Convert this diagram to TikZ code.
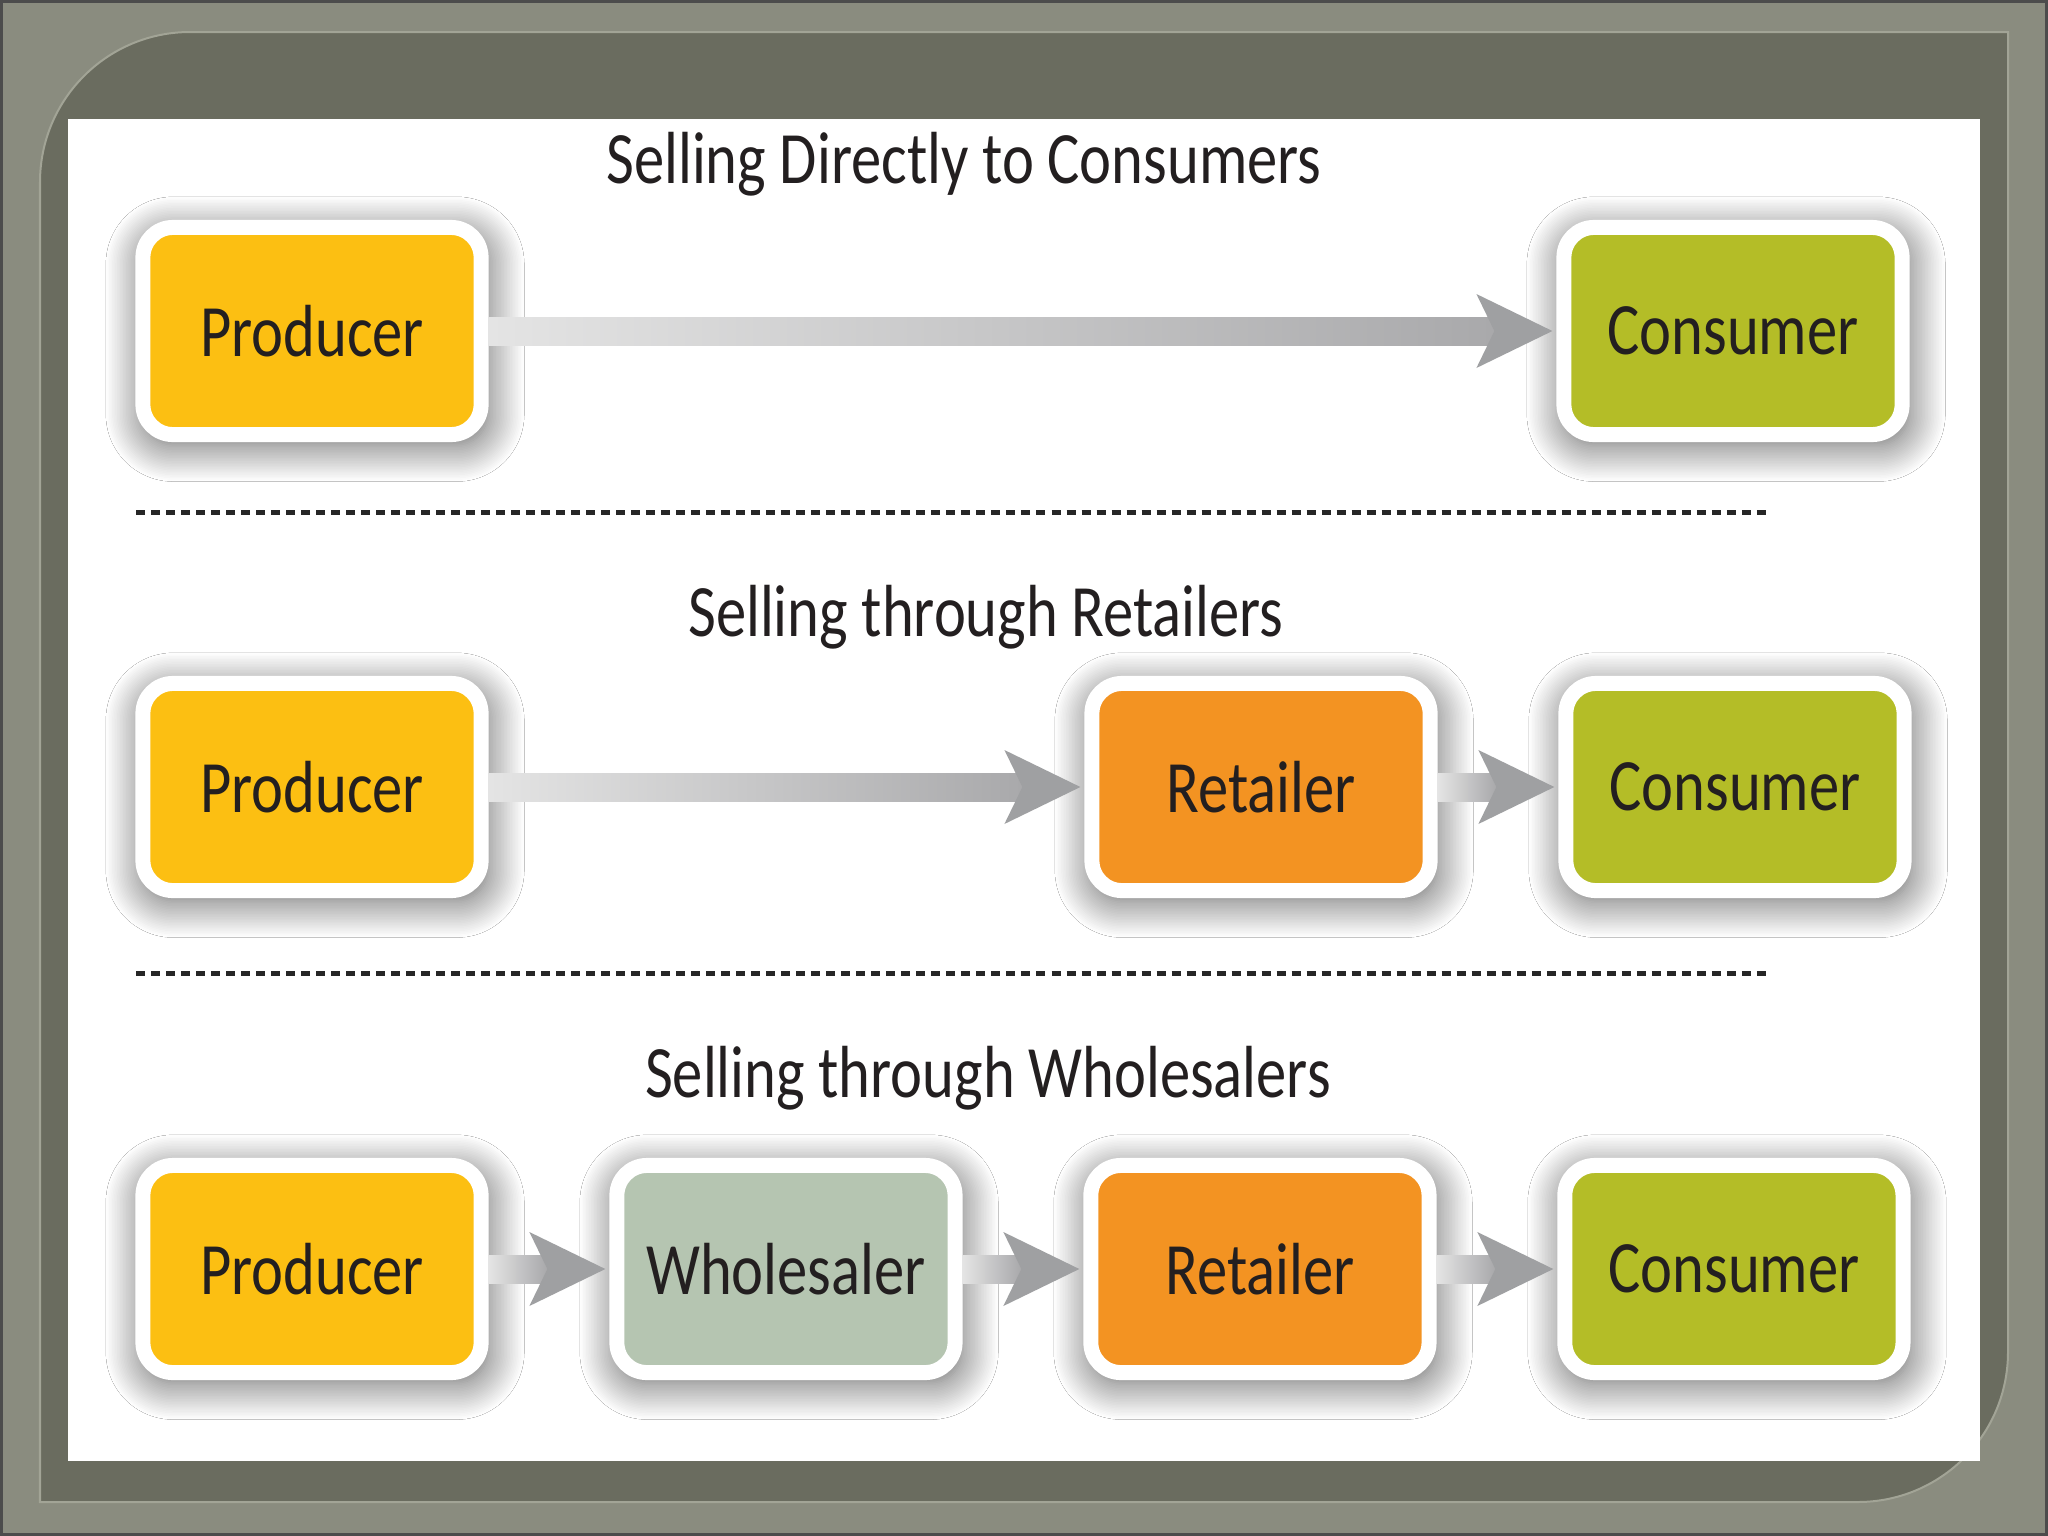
\documentclass[tikz,border=0pt]{standalone}
\usepackage{fontspec}
\setmainfont[FakeStretch=0.82]{Carlito}
\usetikzlibrary{positioning,calc,shadows.blur}

\definecolor{framebg}{HTML}{8A8C7F}
\definecolor{framedark}{HTML}{6A6C5F}
\definecolor{frameline}{HTML}{A2A496}
\definecolor{producer}{HTML}{FCBF12}
\definecolor{wholesaler}{HTML}{B5C5B1}
\definecolor{retailer}{HTML}{F39322}
\definecolor{consumer}{HTML}{B4BD27}
\definecolor{inktext}{HTML}{231F20}
\definecolor{arrowlight}{HTML}{E4E4E4}
\definecolor{arrowdark}{HTML}{A9A9AB}
\definecolor{arrowtip}{HTML}{9FA0A2}

% shaft + notched head from one box to the next
\newcommand{\chanarrow}[2]{%
  \shade[left color=arrowlight, right color=arrowdark]
    ($(#1.east)+(0,-14)$) rectangle ($(#2.west)+(-62,14)$);
  \fill[arrowtip] ($(#2.west)+(-4,0)$) -- ++(-76,-37) -- ++(18,37) -- ++(-18,37) -- cycle;
}

\begin{document}
\begin{tikzpicture}[
    x=0.01cm, y=-0.01cm,
    chanbox/.style={rectangle, rounded corners=0.3cm, fill=#1, draw=white,
      line width=0.15cm, minimum width=3.38cm, minimum height=2.07cm,
      text=inktext, font=\fontsize{21}{24}\selectfont,
      blur shadow={shadow xshift=0.03cm, shadow yshift=-0.08cm,
        shadow blur radius=0.36cm, shadow blur steps=24,
        shadow opacity=65, shadow scale=1.02}},
    title/.style={anchor=base, text=inktext, font=\fontsize{21}{24}\selectfont},
    divider/.style={line width=0.05cm, draw=black!85, dash pattern=on 0.09cm off 0.06cm},
    node distance=4.737cm
    ]
    \useasboundingbox (0,0) rectangle (2048,1536);

    %% slide frame
    \fill[framebg] (0,0) rectangle (2048,1536);
    \filldraw[fill=framedark, draw=frameline, line width=0.02cm]
      (40,1502) [rounded corners=1.5cm] -- (40,32) [sharp corners] -- (2008,32)
      [rounded corners=1.5cm] -- (2008,1502) [sharp corners] -- cycle;
    \fill[white] (68,119) rectangle (1980,1461);
    \draw[black!70, line width=0.03cm] (1.5,1.5) rectangle (2046.5,1534.5);

    %% Selling directly
    \node[title](t1) at (964,183) {Selling Directly to Consumers};
    \node[chanbox=producer](p1) at (312,331) {Producer};
    \node[chanbox=consumer](c1) at (1733,331) {Consumer};
    \chanarrow{p1}{c1}

    \draw[divider] (136,512) -- (1767,512);

    %% Selling through retailers
    \node[title](t2) at (986,636) {Selling through Retailers};
    \node[chanbox=producer](p2) at (312,787) {Producer};
    \node[chanbox=retailer](r2) at (1261,787) {Retailer};
    \node[chanbox=consumer](c2)[right of=r2] {Consumer};
    \chanarrow{p2}{r2}
    \chanarrow{r2}{c2}

    \draw[divider] (136,973) -- (1767,973);

    %% Selling through wholesalers
    \node[title](t3) at (988,1097) {Selling through Wholesalers};
    \node[chanbox=producer](p3) at (312,1269) {Producer};
    \node[chanbox=wholesaler](w3)[right of=p3] {Wholesaler};
    \node[chanbox=retailer](r3)[right of=w3] {Retailer};
    \node[chanbox=consumer](c3)[right of=r3] {Consumer};
    \chanarrow{p3}{w3}
    \chanarrow{w3}{r3}
    \chanarrow{r3}{c3}
\end{tikzpicture}
\end{document}
